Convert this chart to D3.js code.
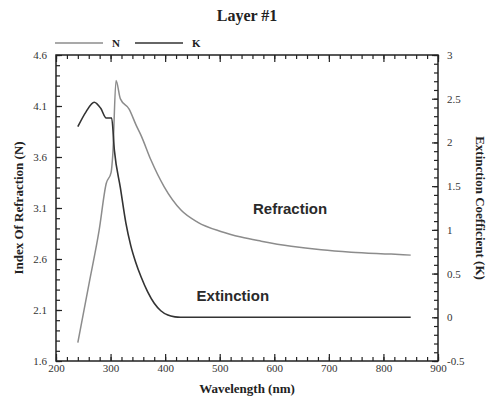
<!DOCTYPE html>
<html>
<head>
<meta charset="utf-8">
<script src="https://cdn.jsdelivr.net/npm/d3@7"></script>
<style>
  body { margin: 0; background: #fff; }
  svg { display: block; }
  .serif { font-family: "Liberation Serif", "Times New Roman", serif; }
</style>
</head>
<body>
<div id="chart"></div>
<script>
// refractive index N (left axis)
const nWavelength = [240, 261, 279, 292, 301, 304, 310, 318, 334, 347, 356, 374, 398, 429, 460, 502, 539, 576, 631, 686, 741, 814, 850];
const nValues     = [1.78, 2.37, 2.88, 3.34, 3.45, 3.62, 4.35, 4.17, 4.07, 3.91, 3.81, 3.57, 3.31, 3.08, 2.96, 2.87, 2.815, 2.775, 2.725, 2.69, 2.667, 2.648, 2.638];

// extinction coefficient K (right axis)
const kWavelength = [240, 255, 270, 282, 292, 302, 307, 318, 328, 337, 346, 356, 368, 380, 392, 405, 418, 428, 850];
const kValues     = [2.18, 2.35, 2.46, 2.39, 2.28, 2.28, 1.91, 1.48, 1.08, 0.82, 0.63, 0.46, 0.29, 0.16, 0.075, 0.025, 0.005, 0, 0];

const xTicks = [200, 300, 400, 500, 600, 700, 800, 900];
const nTicks = [1.6, 2.1, 2.6, 3.1, 3.6, 4.1, 4.6];
const kTicks = [-0.5, 0, 0.5, 1, 1.5, 2, 2.5, 3];

const width = 488, height = 401;
const margin = {top: 55, right: 50, bottom: 40, left: 56};
const innerW = width - margin.left - margin.right;
const innerH = height - margin.top - margin.bottom;

const svg = d3.select('#chart').append('svg')
  .attr('width', width)
  .attr('height', height);

const x = d3.scaleLinear().domain([200, 900]).range([0, innerW]);
const yN = d3.scaleLinear().domain([1.6, 4.6]).range([innerH, 0]);
const yK = d3.scaleLinear().domain([-0.5, 3]).range([innerH, 0]);

const g = svg.append('g').attr('transform', `translate(${margin.left},${margin.top})`);

// minor ticks every 20 nm / 0.1
const xMinor = d3.range(200, 901, 20);
const nMinor = d3.range(16, 47).map(d => d / 10);
const kMinor = d3.range(-5, 31).map(d => d / 10);

function addAxis(axis, transform) {
  const a = g.append('g').attr('transform', transform).call(axis);
  a.attr('font-family', null).attr('font-size', null);
  a.select('.domain').remove();
  a.selectAll('.tick line').attr('stroke', '#222').attr('stroke-width', 1.2);
  a.selectAll('.tick text')
    .style('font-family', '"Liberation Serif", "Times New Roman", serif')
    .style('font-size', '11px')
    .style('fill', '#333');
  return a;
}

addAxis(d3.axisBottom(x).tickValues(xMinor).tickSize(-4).tickFormat(''), `translate(0,${innerH})`);
addAxis(d3.axisBottom(x).tickValues(xTicks).tickSize(-7).tickPadding(3).tickFormat(d3.format('d')), `translate(0,${innerH})`);
addAxis(d3.axisTop(x).tickValues(xMinor).tickSize(-4).tickFormat(''), 'translate(0,0)');
addAxis(d3.axisTop(x).tickValues(xTicks).tickSize(-7).tickFormat(''), 'translate(0,0)');

addAxis(d3.axisLeft(yN).tickValues(nMinor).tickSize(-4).tickFormat(''), 'translate(0,0)');
addAxis(d3.axisLeft(yN).tickValues(nTicks).tickSize(-6).tickPadding(9).tickFormat(d3.format('.1f')), 'translate(0,0)');

addAxis(d3.axisRight(yK).tickValues(kMinor).tickSize(-4).tickFormat(''), `translate(${innerW},0)`);
addAxis(d3.axisRight(yK).tickValues(kTicks).tickSize(-6).tickPadding(9).tickFormat(d => d), `translate(${innerW},0)`);

// frame
g.append('rect')
  .attr('width', innerW)
  .attr('height', innerH)
  .attr('fill', 'none')
  .attr('stroke', '#222')
  .attr('stroke-width', 1.5);

// curves
const nLine = d3.line()
  .x((d, i) => x(nWavelength[i]))
  .y(d => yN(d))
  .curve(d3.curveMonotoneX);

const kLine = d3.line()
  .x((d, i) => x(kWavelength[i]))
  .y(d => yK(d))
  .curve(d3.curveMonotoneX);

g.append('path')
  .attr('d', nLine(nValues))
  .attr('fill', 'none')
  .attr('stroke', '#8c8c8c')
  .attr('stroke-width', 1.5);

g.append('path')
  .attr('d', kLine(kValues))
  .attr('fill', 'none')
  .attr('stroke', '#333')
  .attr('stroke-width', 1.6);

// curve labels
g.append('text')
  .attr('x', x(629))
  .attr('y', yN(3.04))
  .attr('text-anchor', 'middle')
  .style('font-family', '"Liberation Sans", Arial, sans-serif')
  .style('font-size', '15px')
  .style('font-weight', 'bold')
  .style('fill', '#2a2a2a')
  .text('Refraction');

g.append('text')
  .attr('x', x(524))
  .attr('y', yK(0.186))
  .attr('text-anchor', 'middle')
  .style('font-family', '"Liberation Sans", Arial, sans-serif')
  .style('font-size', '15px')
  .style('font-weight', 'bold')
  .style('fill', '#2a2a2a')
  .text('Extinction');

// title
svg.append('text')
  .attr('class', 'serif')
  .attr('x', 247)
  .attr('y', 21)
  .attr('text-anchor', 'middle')
  .style('font-size', '16px')
  .style('font-weight', 'bold')
  .style('fill', '#222')
  .text('Layer #1');

// legend
const legend = [
  {label: 'N', color: '#8c8c8c', x0: 55},
  {label: 'K', color: '#333', x0: 135}
];
legend.forEach(d => {
  svg.append('line')
    .attr('x1', d.x0).attr('x2', d.x0 + 48)
    .attr('y1', 43).attr('y2', 43)
    .attr('stroke', d.color)
    .attr('stroke-width', 1.6);
  svg.append('text')
    .attr('class', 'serif')
    .attr('x', d.x0 + 57)
    .attr('y', 47)
    .style('font-size', '11px')
    .style('font-weight', 'bold')
    .style('fill', '#222')
    .text(d.label);
});

// axis titles
svg.append('text')
  .attr('class', 'serif')
  .attr('x', margin.left + innerW / 2)
  .attr('y', 393)
  .attr('text-anchor', 'middle')
  .style('font-size', '13px')
  .style('font-weight', 'bold')
  .style('fill', '#222')
  .text('Wavelength (nm)');

svg.append('text')
  .attr('class', 'serif')
  .attr('transform', `translate(23,${margin.top + innerH / 2}) rotate(-90)`)
  .attr('text-anchor', 'middle')
  .style('font-size', '13px')
  .style('font-weight', 'bold')
  .style('fill', '#222')
  .text('Index Of Refraction (N)');

svg.append('text')
  .attr('class', 'serif')
  .attr('transform', `translate(476,${margin.top + innerH / 2}) rotate(90)`)
  .attr('text-anchor', 'middle')
  .style('font-size', '13px')
  .style('font-weight', 'bold')
  .style('fill', '#222')
  .text('Extinction Coefficient (K)');
</script>
</body>
</html>
